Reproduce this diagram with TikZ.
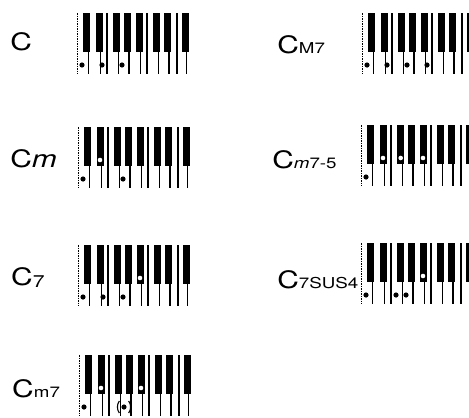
\documentclass[tikz,border=0pt]{standalone}
\usepackage{fontspec}
\setmainfont{TeX Gyre Heros}
\tikzset{
  chordname/.style={anchor=base west, inner sep=0pt, xscale=1.25,
    font=\fontsize{24}{24}\selectfont},
  blackkey/.style={fill=black},
  keyline/.style={line width=1.1pt},
  edgeline/.style={line width=0.7pt, dash pattern=on 1.5pt off 1pt},
  notedot/.style={fill=black},
  opendot/.style={fill=white}
}
\newcommand{\chordsub}[1]{{\fontsize{15}{15}\selectfont #1}}
% #1 left x, #2 top y, #3 pressed white keys, #4 pressed black keys (offsets)
\newcommand{\pianokeys}[4]{%
  \begin{scope}[shift={(#1,#2)}]
    \draw[edgeline] (0,0) -- (0,61);
    \foreach \j in {3,7,10} \draw[keyline] (\j*10,0) -- (\j*10,61);
    \foreach \bx in {9.7,22,39.7,50.5,62,79.7,90.5,108} {
      \fill[blackkey] (\bx-3.5,0) rectangle (\bx+3.5,39);
      \draw[keyline] (\bx+1.5,39) -- (\bx+1.5,61);
    }
    \foreach \n in {#3} \fill[notedot] ({(\n+0.5)*10},52) circle (2.6);
    \if\relax\detokenize{#4}\relax\else
      \foreach \bx in {#4} \fill[opendot] (\bx,33) circle (2.3);
    \fi
  \end{scope}}

\begin{document}
\begin{tikzpicture}[x=1pt, y=-1pt]
    \useasboundingbox (0,0) rectangle (469,418);

    \node[chordname] (lblC) at (10,50) {C};
    \node[chordname] (lblCM) at (277,53) {C\chordsub{M7}};
    \node[chordname] (lblCm) at (10,167) {C\textit{m}};
    \node[chordname] (lblCmb) at (272,168) {C\chordsub{\textit{m}7-5}};
    \node[chordname] (lblCs) at (11,285) {C\raisebox{-2pt}{\fontsize{17}{17}\selectfont 7}};
    \node[chordname] (lblCsus) at (277,288) {C\chordsub{7SUS4}};
    \node[chordname] (lblCmm) at (12,397) {C\chordsub{m7}};

    \pianokeys{77}{13}{0,2,4}{}
    \pianokeys{362}{13}{0,2,4,6}{}
    \pianokeys{78}{127}{0,4}{22}
    \pianokeys{361}{125}{0}{22,39.7,62}
    \pianokeys{78}{245}{0,2,4}{62}
    \pianokeys{361}{243}{0,3,4}{62}
    \pianokeys{79}{355}{0,4}{22,62}

    % brackets round the optional fifth
    \draw[keyline] (119.3,401) .. controls (116.8,404) and (116.8,410) .. (119.3,413);
    \draw[keyline] (128.7,401) .. controls (131.2,404) and (131.2,410) .. (128.7,413);
\end{tikzpicture}
\end{document}
